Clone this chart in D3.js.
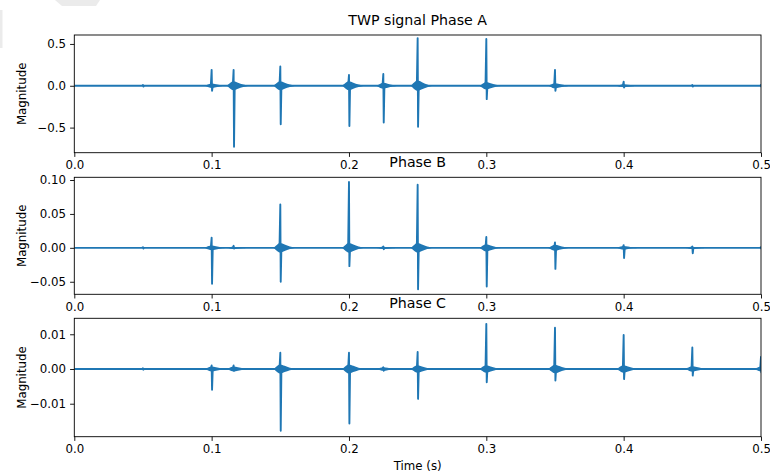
<!DOCTYPE html>
<html>
<head>
<meta charset="utf-8">
<script src="https://cdn.jsdelivr.net/npm/d3@7"></script>
<style>
  body { margin: 0; background: #fff; }
  text { font-family: "DejaVu Sans", sans-serif; fill: #000; }
</style>
</head>
<body>
<script>
// burst times (s) shared by the three phases
const burstTimes = [0.05, 0.1, 0.116, 0.15, 0.2, 0.225, 0.25, 0.3, 0.35, 0.4, 0.45, 0.5]

// phase A
const phaseAHigh = [0.01, 0.19, 0.19, 0.23, 0.13, 0.14, 0.57, 0.56, 0.19, 0.05, 0.01, 0.01]
const phaseALow  = [-0.01, -0.06, -0.73, -0.46, -0.48, -0.44, -0.49, -0.16, -0.06, -0.02, -0.01, -0.01]
const phaseARing = [0, 0.03, 0.06, 0.06, 0.06, 0.04, 0.07, 0.05, 0.035, 0.02, 0.006, 0]

// phase B
const phaseBHigh = [0.001, 0.015, 0.003, 0.064, 0.097, 0.002, 0.093, 0.016, 0.008, 0.004, 0.002, 0.001]
const phaseBLow  = [-0.001, -0.053, -0.001, -0.05, -0.027, -0.002, -0.061, -0.057, -0.031, -0.015, -0.008, -0.001]
const phaseBRing = [0, 0.004, 0.002, 0.008, 0.008, 0.002, 0.008, 0.006, 0.005, 0.003, 0.002, 0]

// phase C
const phaseCHigh = [0.0002, 0.001, 0.001, 0.0047, 0.0047, 0.0005, 0.0049, 0.013, 0.0119, 0.0098, 0.0062, 0.0035]
const phaseCLow  = [-0.0002, -0.006, -0.0005, -0.0178, -0.0157, -0.0005, -0.0086, -0.0038, -0.0033, -0.0029, -0.0019, -0.001]
const phaseCRing = [0, 0.0008, 0.0008, 0.0015, 0.0015, 0.0006, 0.0012, 0.0012, 0.0014, 0.0012, 0.0009, 0.0008]

// axis ticks
const xTicks = [0.0, 0.1, 0.2, 0.3, 0.4, 0.5]
const yTicksA = [-0.5, 0.0, 0.5]
const yTicksB = [-0.05, 0.0, 0.05, 0.10]
const yTicksC = [-0.01, 0.0, 0.01]

const panels = [
    {title: "TWP signal Phase A", high: phaseAHigh, low: phaseALow, ring: phaseARing,
     domain: [-0.80, 0.607], ticks: yTicksA, fmt: d3.format(".1f"), top: 35, bottom: 152.7},
    {title: "Phase B", high: phaseBHigh, low: phaseBLow, ring: phaseBRing,
     domain: [-0.0685, 0.104], ticks: yTicksB, fmt: d3.format(".2f"), top: 177.3, bottom: 294.3},
    {title: "Phase C", high: phaseCHigh, low: phaseCLow, ring: phaseCRing,
     domain: [-0.0195, 0.0146], ticks: yTicksC, fmt: d3.format(".2f"), top: 318.3, bottom: 436.7}
]

const width = 770
const height = 475
const left = 74.3
const right = 761
const colour = "#1f77b4"
const fontSize = 11.8
const titleSize = 14.2

const svg = d3.select("body").append("svg")
    .attr("width", width)
    .attr("height", height)

// light grey smudges in the top left of the screenshot
svg.append("polygon").attr("points", "55,0 100,0 96,6 62,6").attr("fill", "#ebebeb")
svg.append("rect").attr("x", 0).attr("y", 10).attr("width", 2.5).attr("height", 38).attr("fill", "#ebebeb")

const xScale = d3.scaleLinear().domain([0, 0.5]).range([left, right])
const minus = s => s.replace("-", "\u2212")

panels.forEach((p, k) => {
    const yScale = d3.scaleLinear().domain(p.domain).range([p.bottom, p.top])
    const g = svg.append("g")

    svg.append("clipPath").attr("id", "clip" + k)
        .append("rect")
        .attr("x", left).attr("y", p.top)
        .attr("width", right - left).attr("height", p.bottom - p.top)

    const plot = g.append("g").attr("clip-path", `url(#clip${k})`)

    // signal: flat baseline with a spike at each burst
    let pts = [[0, 0]]
    burstTimes.forEach((t, i) => {
        pts.push([t - 0.0006, 0], [t, p.high[i]], [t + 0.0003, p.low[i]], [t + 0.0008, 0])
    })
    pts.push([0.5, 0])
    const line = d3.line().x(d => xScale(d[0])).y(d => yScale(d[1]))
    plot.append("path")
        .attr("d", line(pts))
        .attr("fill", "none")
        .attr("stroke", colour)
        .attr("stroke-width", 1.9)
        .attr("stroke-linejoin", "round")

    // ringing blob around each burst
    const area = d3.area()
        .x(d => xScale(d[0]))
        .y0(d => yScale(-d[1]))
        .y1(d => yScale(d[1]))
        .curve(d3.curveBasis)
    burstTimes.forEach((t, i) => {
        const r = p.ring[i]
        if (r <= 0) return
        const env = [[t - 0.005, 0], [t - 0.002, r * 0.7], [t, r], [t + 0.003, r * 0.6], [t + 0.007, r * 0.2], [t + 0.011, 0]]
        plot.append("path")
            .attr("d", area(env))
            .attr("fill", colour)
    })

    // frame
    g.append("rect")
        .attr("x", left).attr("y", p.top)
        .attr("width", right - left).attr("height", p.bottom - p.top)
        .attr("fill", "none").attr("stroke", "#000").attr("stroke-width", 0.9)

    // x axis
    const xAxis = g.append("g")
        .attr("transform", `translate(0,${p.bottom})`)
        .call(d3.axisBottom(xScale).tickValues(xTicks).tickFormat(d3.format(".1f")).tickSizeOuter(0).tickSize(4.2).tickPadding(4))
    xAxis.select(".domain").remove()
    xAxis.selectAll("line").attr("stroke", "#000").attr("stroke-width", 0.9)
    xAxis.selectAll("text").attr("font-size", fontSize).attr("font-family", "DejaVu Sans").attr("fill", "#000")

    // y axis
    const yAxis = g.append("g")
        .attr("transform", `translate(${left},0)`)
        .call(d3.axisLeft(yScale).tickValues(p.ticks).tickFormat(d => minus(p.fmt(d))).tickSizeOuter(0).tickSize(4.2).tickPadding(4))
    yAxis.select(".domain").remove()
    yAxis.selectAll("line").attr("stroke", "#000").attr("stroke-width", 0.9)
    yAxis.selectAll("text").attr("font-size", fontSize).attr("font-family", "DejaVu Sans").attr("fill", "#000")

    // y label
    svg.append("text")
        .attr("transform", `translate(26,${(p.top + p.bottom) / 2}) rotate(-90)`)
        .attr("text-anchor", "middle")
        .attr("font-size", fontSize)
        .text("Magnitude")

    // title
    svg.append("text")
        .attr("x", (left + right) / 2)
        .attr("y", p.top - 10.5)
        .attr("text-anchor", "middle")
        .attr("font-size", titleSize)
        .text(p.title)
})

svg.append("text")
    .attr("x", (left + right) / 2)
    .attr("y", 470)
    .attr("text-anchor", "middle")
    .attr("font-size", fontSize)
    .text("Time (s)")
</script>
</body>
</html>
